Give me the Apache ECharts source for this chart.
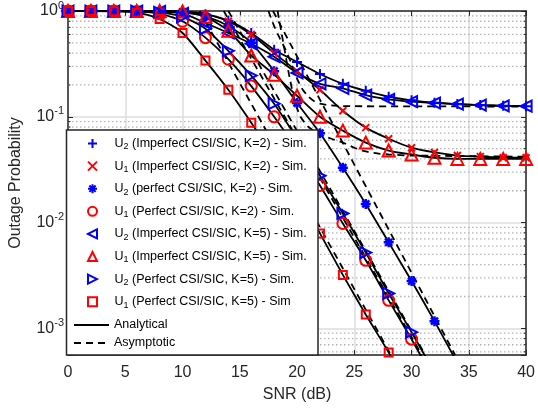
<!DOCTYPE html>
<html><head><meta charset="utf-8">
<script src="https://cdn.jsdelivr.net/npm/echarts@6/dist/echarts.min.js"></script>
<style>html,body{margin:0;padding:0;background:#fff}#c{width:538px;height:408px}</style>
</head><body><div id="c"></div>
<script>
// ---- data ----
const snr = [0,2,4,6,8,10,12,14,16,18,20,22,24,26,28,30,32,34,36,38,40];
const u2ImpK2 = [1,1,1,0.999,0.995,0.98,0.93,0.81,0.62,0.43,0.33,0.254,0.205,0.176,0.155,0.143,0.136,0.132,0.129,0.127,0.126];
const u1ImpK2 = [1,1,1,1,0.998,0.985,0.94,0.80,0.60,0.40,0.27,0.18,0.114,0.079,0.062,0.051,0.046,0.043,0.042,0.041,0.041];
const u2PerK2 = [1,1,1,1,0.995,0.97,0.89,0.72,0.50,0.27,0.135,0.07,0.033,0.015,0.0065,0.0028,0.00117,0.00047,0.00019,0.000075,0.00003];
const u1PerK2 = [1,1,1,0.99,0.94,0.80,0.56,0.35,0.195,0.10,0.049,0.0224,0.0098,0.0044,0.00184,0.00079,0.00032,0.00013,0.00005,0.00002,0.000008];
const u2ImpK5 = [1,1,1,1,0.99,0.95,0.77,0.62,0.49,0.37,0.26,0.205,0.186,0.16,0.146,0.139,0.135,0.132,0.129,0.127,0.126];
const u1ImpK5 = [1,1,1,1,1,0.99,0.88,0.65,0.38,0.25,0.158,0.10,0.074,0.057,0.048,0.044,0.041,0.040,0.040,0.040,0.040];
const u2PerK5 = [1,1,1,0.995,0.97,0.88,0.68,0.42,0.245,0.133,0.062,0.0277,0.0122,0.0052,0.00214,0.00092,0.00038,0.00015,0.00006,0.000024,0.00001];
const u1PerK5 = [1,1,0.995,0.965,0.84,0.62,0.34,0.18,0.088,0.042,0.019,0.0079,0.0032,0.00135,0.00059,0.00024,0.0001,0.00004,0.000016,0.000006,0.0000025];

// asymptotic curves (dB, value)
const asymU1PerK5Snr = [11.5, 28.2];   const asymU1PerK5Val = [1, 0.00056];
const asymU1PerK2Snr = [13.6, 30.9];   const asymU1PerK2Val = [1, 0.00056];
const asymU2PerK5Snr = [14.0, 31.2];   const asymU2PerK5Val = [1, 0.00056];
const asymU2PerK2Snr = [17.9, 33.8];   const asymU2PerK2Val = [1, 0.00056];
const asymU2ImpSnr = [17.5,18,18.5,19,19.5,20,20.5,21,21.5,22,23,24,40];
const asymU2ImpVal = [1,0.72,0.55,0.43,0.32,0.23,0.18,0.155,0.14,0.133,0.128,0.126,0.125];
const asymU1ImpSnr = [18.3,18.8,19.3,19.8,20.3,21,22,23,24,25,26,27,28,30,40];
const asymU1ImpVal = [1,0.5,0.25,0.14,0.1,0.08,0.068,0.062,0.057,0.051,0.047,0.045,0.044,0.043,0.042];

const xTicks = [0,5,10,15,20,25,30,35,40];
const yMin = 0.00056, yMax = 1;

const simNames = [
  'U2 (Imperfect CSI/SIC, K=2) - Sim.',
  'U1 (Imperfect CSI/SIC, K=2) - Sim.',
  'U2 (perfect CSI/SIC, K=2) - Sim.',
  'U1 (Perfect CSI/SIC, K=2) - Sim.',
  'U2 (Imperfect CSI/SIC, K=5) - Sim.',
  'U1 (Imperfect CSI/SIC, K=5) - Sim.',
  'U2 (Perfect CSI/SIC, K=5) - Sim.',
  'U1 (Perfect CSI/SIC, K=5) - Sim'
];
const simData = [u2ImpK2,u1ImpK2,u2PerK2,u1PerK2,u2ImpK5,u1ImpK5,u2PerK5,u1PerK5];

// ---- styles ----
const BLUE = '#0000ff', RED = '#ff0000';
const FONT = '"Liberation Sans", Arial, sans-serif';
const simStyle = [
  {symbol:'path://M5,0L5,10M0,5L10,5', size:10, color:BLUE, fill:false, bw:2},
  {symbol:'path://M0,0L10,10M0,10L10,0', size:7, color:RED, fill:false, bw:2},
  {symbol:'path://M5,0L5,10M0,5L10,5M1.5,1.5L8.5,8.5M1.5,8.5L8.5,1.5', size:10, color:BLUE, fill:true, bw:2.5},
  {symbol:'circle', size:11, color:RED, fill:false, bw:2},
  {symbol:'path://M0,5L10,0L10,10Z', size:11, color:BLUE, fill:false, bw:2},
  {symbol:'triangle', size:12, color:RED, fill:false, bw:2},
  {symbol:'path://M10,5L0,0L0,10Z', size:11, color:BLUE, fill:false, bw:2},
  {symbol:'rect', size:8, color:RED, fill:false, bw:2}
];

const minorVals = [];
for (let d = -4; d < 0; d++) for (let k = 2; k <= 9; k++) {
  const v = k * Math.pow(10, d);
  if (v > yMin && v < yMax) minorVals.push(v);
}

const series = [];
series.push({
  type:'custom', silent:true, z:1, xAxisIndex:0, yAxisIndex:0,
  data: minorVals.map(v => [0, v]),
  encode:{x:0, y:1},
  renderItem: function(params, api){
    const y = api.coord([0, api.value(1)])[1];
    const cs = params.coordSys;
    return {type:'group', children:[
      {type:'line', shape:{x1:cs.x, y1:y, x2:cs.x+cs.width, y2:y}, style:{stroke:'#b4b4b4', lineWidth:1.3, lineDash:[1.5,2.5]}},
      {type:'line', shape:{x1:cs.x, y1:y, x2:cs.x+2.5, y2:y}, style:{stroke:'#262626', lineWidth:1}},
      {type:'line', shape:{x1:cs.x+cs.width-2.5, y1:y, x2:cs.x+cs.width, y2:y}, style:{stroke:'#262626', lineWidth:1}}
    ]};
  }
});
simData.forEach(arr => {
  series.push({
    type:'line', name:'Analytical', data: snr.map((x,i)=>[x, arr[i]]),
    symbol:'none', smooth:0.25, clip:true, z:3,
    itemStyle:{color:'#000'},
    lineStyle:{color:'#000', width:1.8}
  });
});
[[asymU1PerK5Snr,asymU1PerK5Val],[asymU1PerK2Snr,asymU1PerK2Val],[asymU2PerK5Snr,asymU2PerK5Val],
 [asymU2PerK2Snr,asymU2PerK2Val],[asymU2ImpSnr,asymU2ImpVal],[asymU1ImpSnr,asymU1ImpVal]].forEach(p => {
  series.push({
    type:'line', name:'Asymptotic', data: p[0].map((x,i)=>[x, p[1][i]]),
    symbol:'none', smooth:0.2, clip:true, z:3,
    itemStyle:{color:'#000'},
    lineStyle:{color:'#000', width:1.8, type:[7,5]}
  });
});
simData.forEach((arr, j) => {
  const s = simStyle[j];
  series.push({
    type:'scatter', name: simNames[j], data: snr.map((x,i)=>[x, arr[i]]),
    symbol: s.symbol, symbolSize: s.size, z:4,
    itemStyle:{color: s.fill ? s.color : 'none', borderColor: s.color, borderWidth: s.bw, opacity:1}
  });
});

const subFmt = n => n.replace(/^U(\d)/, 'U{sub|$1}');

const chart = echarts.init(document.getElementById('c'), null, {renderer:'canvas'});
chart.setOption({
  animation:false,
  backgroundColor:'#fff',
  textStyle:{fontFamily: FONT},
  grid:{left:66, right:6, top:10, bottom:53, containLabel:false},
  xAxis:[{
    type:'value', min:0, max:40, interval:5, position:'bottom',
    name:'SNR (dB)', nameLocation:'middle', nameGap:32,
    nameTextStyle:{fontSize:16, color:'#262626', fontFamily:FONT},
    axisLine:{show:true, onZero:false, lineStyle:{color:'#262626', width:1.5}},
    axisTick:{inside:true, length:5, lineStyle:{color:'#262626'}},
    axisLabel:{fontSize:16, color:'#262626', margin:10, fontFamily:FONT},
    splitLine:{show:true, lineStyle:{color:'#dcdcdc', width:1.5}}
  },{
    type:'value', min:0, max:40, interval:5, position:'top',
    axisLine:{show:true, onZero:false, lineStyle:{color:'#262626', width:1.5}},
    axisTick:{inside:true, length:5, lineStyle:{color:'#262626'}},
    axisLabel:{show:false}, splitLine:{show:false}
  }],
  yAxis:[{
    type:'log', logBase:10, min:yMin, max:yMax, position:'left',
    name:'Outage Probability', nameLocation:'middle', nameGap:44,
    nameTextStyle:{fontSize:16, color:'#262626', fontFamily:FONT},
    axisLine:{show:true, onZero:false, lineStyle:{color:'#262626', width:1.5}},
    axisTick:{inside:true, length:5, lineStyle:{color:'#262626'}},
    axisLabel:{
      margin:4, color:'#262626', fontFamily:FONT,
      formatter: function(v){
        const e = Math.log10(v);
        if (Math.abs(e - Math.round(e)) > 1e-6) return '';
        return '{b|10}{sup|' + Math.round(e) + '}';
      },
      rich:{
        b:{fontSize:16, lineHeight:22, color:'#262626', fontFamily:FONT},
        sup:{fontSize:11, lineHeight:11, verticalAlign:'top', color:'#262626', fontFamily:FONT}
      }
    },
    splitLine:{show:true, lineStyle:{color:'#dcdcdc', width:1.5}}
  },{
    type:'log', logBase:10, min:yMin, max:yMax, position:'right',
    axisLine:{show:true, onZero:false, lineStyle:{color:'#262626', width:1.5}},
    axisTick:{inside:true, length:5, lineStyle:{color:'#262626'}},
    axisLabel:{show:false}, splitLine:{show:false}
  }],
  graphic:[{
    type:'rect', z:10, silent:true,
    shape:{x:66.5, y:130, width:251.5, height:225},
    style:{fill:'#fff', stroke:'#262626', lineWidth:1.5}
  }],
  legend:[{
    data: simNames, orient:'vertical', left:85.5, top:135.5, padding:0,
    itemWidth:9, itemHeight:9, itemGap:6.6, z:20, selectedMode:false,
    formatter: subFmt,
    textStyle:{
      fontSize:12.5, color:'#000', lineHeight:16, fontFamily:FONT, padding:[0,0,0,12.5],
      rich:{sub:{fontSize:9, lineHeight:4, verticalAlign:'bottom', color:'#000', fontFamily:FONT}}
    }
  },{
    data:[
      {name:'Analytical', itemStyle:{color:'rgba(0,0,0,0)', borderWidth:0, opacity:0}},
      {name:'Asymptotic', itemStyle:{color:'rgba(0,0,0,0)', borderWidth:0, opacity:0}}
    ],
    orient:'vertical', left:73, top:317, padding:0,
    itemWidth:35, itemHeight:12, itemGap:2, z:20, selectedMode:false,
    textStyle:{fontSize:12.5, color:'#000', lineHeight:16, fontFamily:FONT}
  }],
  series: series
});
</script></body></html>
